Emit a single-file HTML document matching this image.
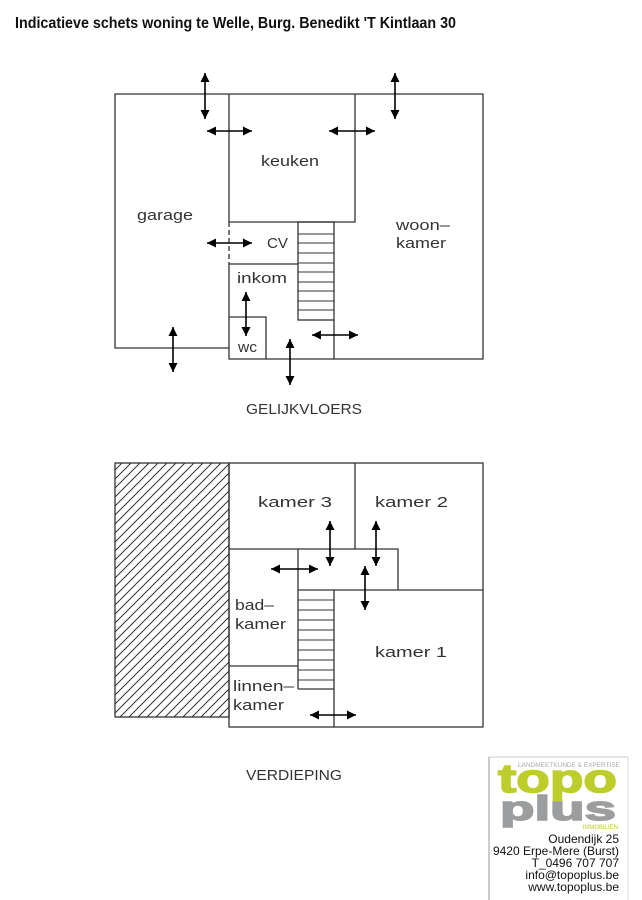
<!DOCTYPE html>
<html><head><meta charset="utf-8"><style>
html,body{margin:0;padding:0;background:#fff;}
svg{display:block;}
</style></head><body>
<svg width="642" height="900" viewBox="0 0 642 900" xmlns="http://www.w3.org/2000/svg">
<defs>
<marker id="a" viewBox="0 0 10 10" refX="10" refY="5" markerWidth="9" markerHeight="9" markerUnits="userSpaceOnUse" orient="auto-start-reverse">
<path d="M0,0 L10,5 L0,10 z" fill="#000"/>
</marker>
<pattern id="h" width="9" height="9" patternUnits="userSpaceOnUse">
<path d="M-1,10 L10,-1 M-1,1 L1,-1 M8,10 L10,8" stroke="#333" stroke-width="1"/>
</pattern>
</defs>
<rect width="642" height="900" fill="#fff"/>
<text x="15" y="28" font-family="Liberation Sans, sans-serif" font-weight="bold" font-size="16" textLength="441" lengthAdjust="spacingAndGlyphs" fill="#111">Indicatieve schets woning te Welle, Burg. Benedikt 'T Kintlaan 30</text>

<g stroke="#333" stroke-width="1.3" fill="none">
<polyline points="229,348 115,348 115,94 483,94 483,359 229,359 229,264"/>
<line x1="229" y1="94" x2="229" y2="222"/>
<line x1="229" y1="222" x2="229" y2="264" stroke-dasharray="5,3"/>
<polyline points="229,222 355,222 355,94"/>
<line x1="229" y1="264" x2="298" y2="264"/>
<rect x="298" y="222" width="36" height="98"/>
<line x1="334" y1="320" x2="334" y2="359"/>
<polyline points="229,317 266,317 266,359"/>
<g stroke-width="1">
<line x1="298" y1="234" x2="334" y2="234"/><line x1="298" y1="243" x2="334" y2="243"/>
<line x1="298" y1="253" x2="334" y2="253"/><line x1="298" y1="263" x2="334" y2="263"/>
<line x1="298" y1="272" x2="334" y2="272"/><line x1="298" y1="282" x2="334" y2="282"/>
<line x1="298" y1="291" x2="334" y2="291"/><line x1="298" y1="301" x2="334" y2="301"/>
<line x1="298" y1="310" x2="334" y2="310"/>
</g>
<rect x="115" y="463" width="114" height="254" fill="url(#h)"/>
<rect x="229" y="463" width="254" height="264"/>
<line x1="355" y1="463" x2="355" y2="549"/>
<polyline points="229,549 398,549 398,590"/>
<line x1="298" y1="590" x2="483" y2="590"/>
<line x1="298" y1="549" x2="298" y2="689"/>
<line x1="334" y1="590" x2="334" y2="727"/>
<line x1="229" y1="666" x2="298" y2="666"/>
<line x1="298" y1="689" x2="334" y2="689"/>
<g stroke-width="1">
<line x1="298" y1="600" x2="334" y2="600"/><line x1="298" y1="610" x2="334" y2="610"/>
<line x1="298" y1="620" x2="334" y2="620"/><line x1="298" y1="630" x2="334" y2="630"/>
<line x1="298" y1="640" x2="334" y2="640"/><line x1="298" y1="650" x2="334" y2="650"/>
<line x1="298" y1="660" x2="334" y2="660"/><line x1="298" y1="670" x2="334" y2="670"/>
<line x1="298" y1="680" x2="334" y2="680"/>
</g>
</g>

<g stroke="#000" stroke-width="1.6" marker-start="url(#a)" marker-end="url(#a)">
<line x1="205" y1="73" x2="205" y2="119"/>
<line x1="207" y1="131" x2="252" y2="131"/>
<line x1="329" y1="131" x2="375" y2="131"/>
<line x1="395" y1="73" x2="395" y2="119"/>
<line x1="207" y1="243" x2="252" y2="243"/>
<line x1="246" y1="292" x2="246" y2="336"/>
<line x1="173" y1="327" x2="173" y2="372"/>
<line x1="290" y1="339" x2="290" y2="385"/>
<line x1="312" y1="335" x2="358" y2="335"/>
<line x1="271" y1="569" x2="318" y2="569"/>
<line x1="330" y1="521" x2="330" y2="566"/>
<line x1="376" y1="521" x2="376" y2="566"/>
<line x1="365" y1="566" x2="365" y2="610"/>
<line x1="310" y1="715" x2="356" y2="715"/>
</g>

<g font-family="Liberation Sans, sans-serif" font-size="15" fill="#333">
<text x="261" y="166" textLength="58" lengthAdjust="spacingAndGlyphs">keuken</text>
<text x="137" y="220" textLength="56" lengthAdjust="spacingAndGlyphs">garage</text>
<text x="267" y="248" textLength="21" lengthAdjust="spacingAndGlyphs">CV</text>
<text x="396" y="230" textLength="54" lengthAdjust="spacingAndGlyphs">woon–</text>
<text x="396" y="248" textLength="50" lengthAdjust="spacingAndGlyphs">kamer</text>
<text x="237" y="283" textLength="50" lengthAdjust="spacingAndGlyphs">inkom</text>
<text x="238" y="352" textLength="19" lengthAdjust="spacingAndGlyphs">wc</text>
<text x="246" y="414" textLength="116" lengthAdjust="spacingAndGlyphs">GELIJKVLOERS</text>
<text x="258" y="507" textLength="74" lengthAdjust="spacingAndGlyphs">kamer  3</text>
<text x="375" y="507" textLength="73" lengthAdjust="spacingAndGlyphs">kamer  2</text>
<text x="235" y="610" textLength="39" lengthAdjust="spacingAndGlyphs">bad–</text>
<text x="235" y="629" textLength="51" lengthAdjust="spacingAndGlyphs">kamer</text>
<text x="375" y="657" textLength="72" lengthAdjust="spacingAndGlyphs">kamer  1</text>
<text x="233" y="691" textLength="61" lengthAdjust="spacingAndGlyphs">linnen–</text>
<text x="233" y="710" textLength="51" lengthAdjust="spacingAndGlyphs">kamer</text>
<text x="246" y="780" textLength="96" lengthAdjust="spacingAndGlyphs">VERDIEPING</text>
</g>

<g>
<line x1="489" y1="757" x2="628" y2="757" stroke="#ccc" stroke-width="1"/>
<line x1="489" y1="757" x2="489" y2="900" stroke="#999" stroke-width="1"/>
<line x1="628" y1="757" x2="628" y2="900" stroke="#ddd" stroke-width="1"/>
<text x="518" y="767" font-family="Liberation Sans, sans-serif" font-size="6" fill="#aaa" textLength="102" lengthAdjust="spacingAndGlyphs">LANDMEETKUNDE &amp; EXPERTISE</text>
<text x="498" y="792" font-family="Liberation Sans, sans-serif" font-weight="bold" font-size="40" fill="#bccd2c" stroke="#bccd2c" stroke-width="1.5" textLength="119" lengthAdjust="spacingAndGlyphs">topo</text>
<text x="500" y="820" font-family="Liberation Sans, sans-serif" font-weight="bold" font-size="34" fill="#9b9d9f" stroke="#9b9d9f" stroke-width="1.5" textLength="116" lengthAdjust="spacingAndGlyphs">plus</text>
<text x="618" y="829" text-anchor="end" font-family="Liberation Sans, sans-serif" font-size="6" fill="#bccd2c">IMMOBILIËN</text>
<g font-family="Liberation Sans, sans-serif" font-size="12" fill="#111" text-anchor="end">
<text x="619" y="843">Oudendijk 25</text>
<text x="619" y="855">9420 Erpe-Mere (Burst)</text>
<text x="619" y="867">T_0496 707 707</text>
<text x="619" y="879">info@topoplus.be</text>
<text x="619" y="891">www.topoplus.be</text>
</g>
</g>
</svg>
</body></html>
